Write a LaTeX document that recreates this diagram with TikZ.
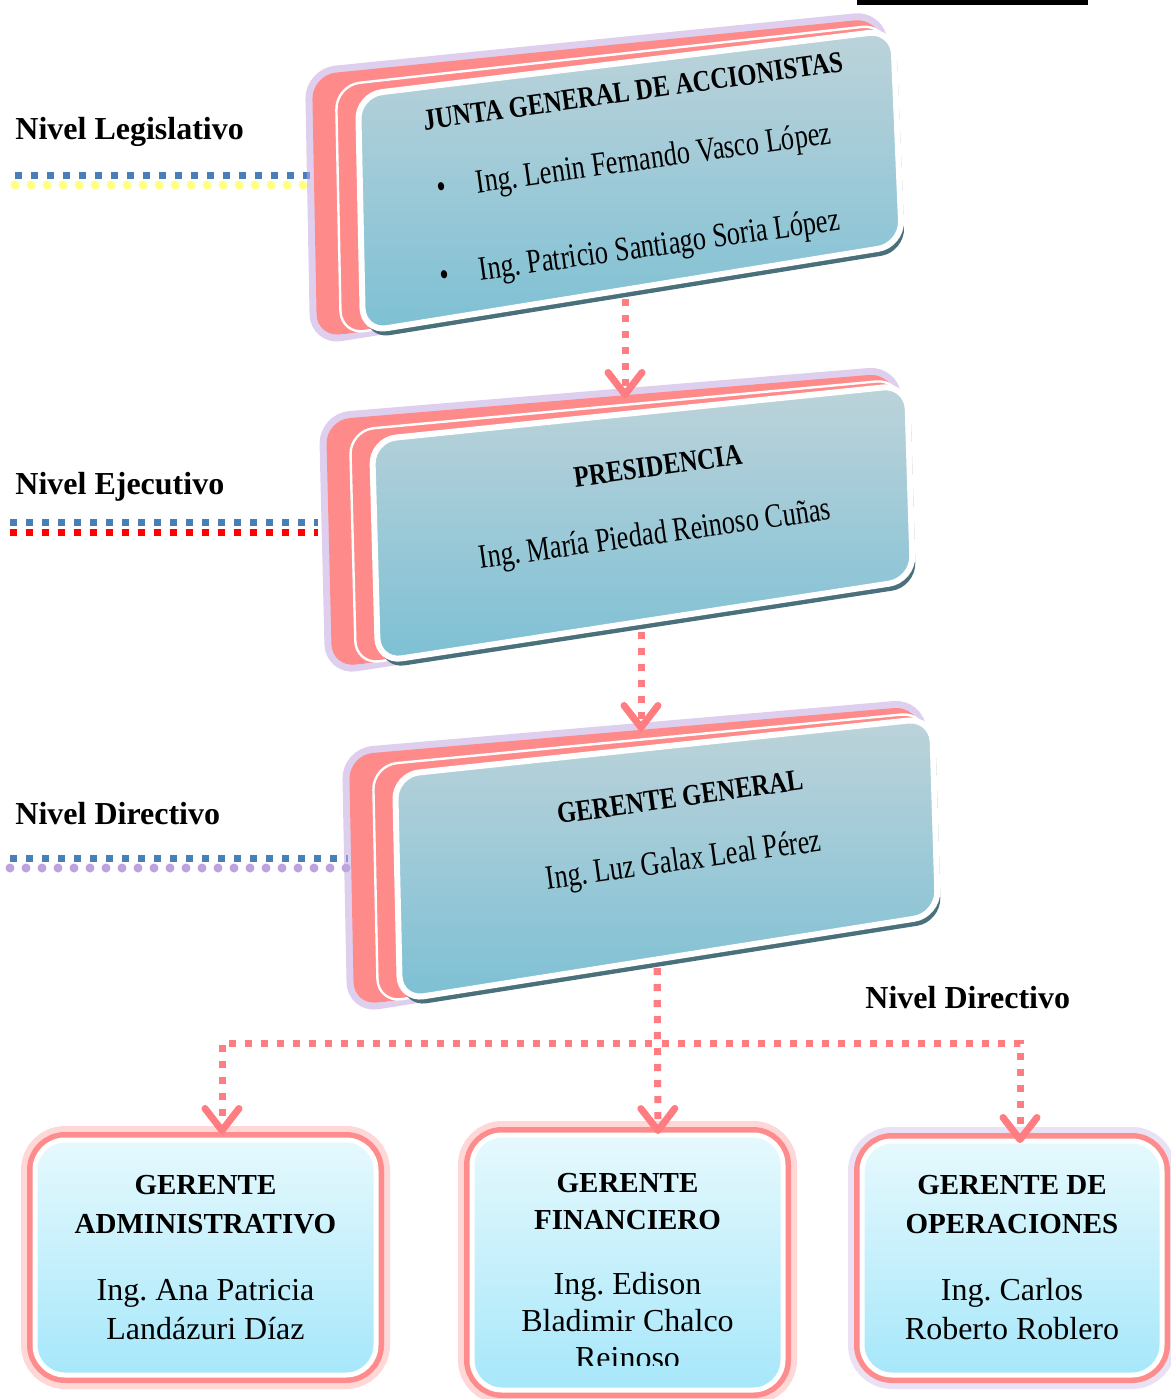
\documentclass[tikz,border=0pt]{standalone}
\usepackage{fontspec}
\setmainfont{Liberation Serif}
\usetikzlibrary{arrows.meta}
\frenchspacing

\definecolor{slabpink}{HTML}{FF8A8A}
\definecolor{arrowpink}{HTML}{FF7C80}
\definecolor{facetop}{HTML}{BDD3DA}
\definecolor{facebot}{HTML}{7DC0D4}
\definecolor{slabdark}{HTML}{4A707B}
\definecolor{lavender}{HTML}{C3A8E0}
\definecolor{boxtop}{HTML}{E6F9FD}
\definecolor{boxbot}{HTML}{A6E7FA}
\definecolor{boxpink}{HTML}{FF8C8C}
\definecolor{dotblue}{HTML}{4A7EBB}
\definecolor{dotyellow}{HTML}{FFFF5A}
\definecolor{dotpurple}{HTML}{A784D2}

\newcommand\mgrtitle{\fontsize{14.5}{19.5}\selectfont\bfseries}

\begin{document}
\begin{tikzpicture}[x=0.5pt, y=-0.5pt,
    face/.style={rounded corners=12pt,
        insert path={({\ax-46*\k/25},{\ay-20*\k/25}) -- ({\bx-14*\k/25},{\by-12*\k/25})
          -- ({\cx-8*\k/25},\cy) -- ({\dx-46*\k/25},{\dy+6*\k/25}) -- cycle}},
    slabglow/.style={draw=lavender, line width=7pt, opacity=.55},
    slabfront/.style={draw=white, line width=3pt, top color=facetop, bottom color=facebot},
    slabtext/.style={rotate=8, xscale=.775, inner sep=0pt, font=\fontsize{17}{19}\selectfont},
    slabtitle/.style={rotate=8, xscale=.82, inner sep=0pt, font=\fontsize{15}{17}\selectfont\bfseries},
    level/.style={anchor=base west, inner sep=0pt, font=\fontsize{16}{18}\selectfont\bfseries},
    squaredots/.style={draw=#1, line width=3.5pt, dash pattern=on 3.5pt off 4.5pt},
    glowdots/.style={draw=#1, line width=4.5pt, line cap=round, dash pattern=on 0pt off 8pt, opacity=.75},
    flow/.style={draw=arrowpink, line width=3.5pt, dash pattern=on 3.5pt off 4.5pt,
        -{Straight Barb[length=11pt, width=17pt, line width=3.5pt, round]}},
    manager/.style={rounded corners=15pt, draw=white, line width=2.5pt,
        top color=boxtop, bottom color=boxbot,
        preaction={draw=#1, line width=14pt, opacity=.35},
        preaction={draw=boxpink, line width=8pt},
        inner sep=0pt, align=center, font=\fontsize{16}{19.5}\selectfont}
]
\useasboundingbox (0,0) rectangle (1171,1399);
\fill (857,0) rectangle (1088,5);

% levels
\node (leg) [level] at (15,139) {Nivel Legislativo};
\node (eje) [level] at (15,494) {Nivel Ejecutivo};
\node (dir) [level] at (15,824) {Nivel Directivo};
\node (dir2) [level] at (865,1008) {Nivel Directivo};

\coordinate (leg-a) at (15,175);  \coordinate (leg-b) at (312,175);
\coordinate (leg-c) at (15,185);  \coordinate (leg-d) at (312,185);
\coordinate (eje-a) at (10,522);  \coordinate (eje-b) at (318,522);
\coordinate (eje-c) at (10,532);  \coordinate (eje-d) at (318,532);
\coordinate (dir-a) at (10,858);  \coordinate (dir-b) at (348,858);
\coordinate (dir-c) at (10,868);  \coordinate (dir-d) at (348,868);
\draw[glowdots=dotyellow] (leg-c) -- (leg-d);
\draw[squaredots=dotblue] (leg-a) -- (leg-b);
\draw[squaredots=red] (eje-c) -- (eje-d);
\draw[squaredots=dotblue] (eje-a) -- (eje-b);
\draw[glowdots=dotpurple] (dir-c) -- (dir-d);
\draw[squaredots=dotblue] (dir-a) -- (dir-b);

% 3d slabs
\foreach \ax/\ay/\bx/\by/\cx/\cy/\dx/\dy in
    {358/95/893/30/902/245/363/332,
     372/440/907/385/913/580/378/662,
     395/775/932/718/938/915/400/1000}{
  \foreach \k in {25} \draw[slabglow, face];
  \foreach \k in {25,...,0} \fill[slabpink, face];
  \foreach \k in {12} \draw[white, line width=1.2pt, face];
  \foreach \k in {0} {
    \fill[slabdark, shift={(3,7)}, face];
    \draw[slabfront, face];
  }
}

\node (junta-t) [slabtitle] at (633,91) {JUNTA GENERAL DE ACCIONISTAS};
\node (junta-1) [slabtext] at (634,163) {\textbullet\hspace{20pt}Ing. Lenin Fernando Vasco López};
\node (junta-2) [slabtext] at (640,250) {\textbullet\hspace{20pt}Ing. Patricio Santiago Soria López};
\node (pres-t) [slabtitle] at (658,466) {PRESIDENCIA};
\node (pres-1) [slabtext] at (655,536) {Ing. María Piedad Reinoso Cuñas};
\node (gg-t) [slabtitle] at (680,797) {GERENTE GENERAL};
\node (gg-1) [slabtext] at (684,862) {Ing. Luz Galax Leal Pérez};

% bottom level
\node (adm) [manager=boxpink, minimum width=170.5pt, minimum height=117.5pt] at (205.5,1257.5)
  {{\mgrtitle GERENTE}\\{\mgrtitle ADMINISTRATIVO}\\[14pt]Ing. Ana Patricia\\Landázuri Díaz};
\node (fin) [manager=boxpink, minimum width=155.5pt, minimum height=127.5pt] at (627.5,1262.5) {};
\begin{scope}
  \clip (460,1120) rectangle (795,1365);
  \node (fin-t) [inner sep=0pt, align=center, font=\fontsize{16}{18.5}\selectfont] at (627.5,1271)
    {{\mgrtitle GERENTE}\\{\mgrtitle FINANCIERO}\\[14pt]Ing. Edison\\Bladimir Chalco\\Reinoso};
\end{scope}
\node (ope) [manager=lavender, minimum width=150pt, minimum height=117pt] at (1012,1258)
  {{\mgrtitle GERENTE DE}\\{\mgrtitle OPERACIONES}\\[14pt]Ing. Carlos\\Roberto Roblero};

% connectors
\coordinate (junta-s) at (625,299);
\coordinate (pres-n) at (625,398);
\coordinate (pres-s) at (641,632);
\coordinate (gg-n) at (641,731);
\coordinate (gg-s) at (657,968);
\coordinate (bus) at (657,1043);
\coordinate (adm-n) at (222,1134);
\coordinate (fin-n) at (658,1134);
\coordinate (ope-n) at (1020,1143);
\draw[flow] (junta-s) -- (pres-n);
\draw[flow] (pres-s) -- (gg-n);
\draw[flow] (gg-s) -- (fin-n);
\draw[flow] (gg-s) |- (adm-n |- bus) -- (adm-n);
\draw[flow] (gg-s) |- (ope-n |- bus) -- (ope-n);
\end{tikzpicture}
\end{document}
